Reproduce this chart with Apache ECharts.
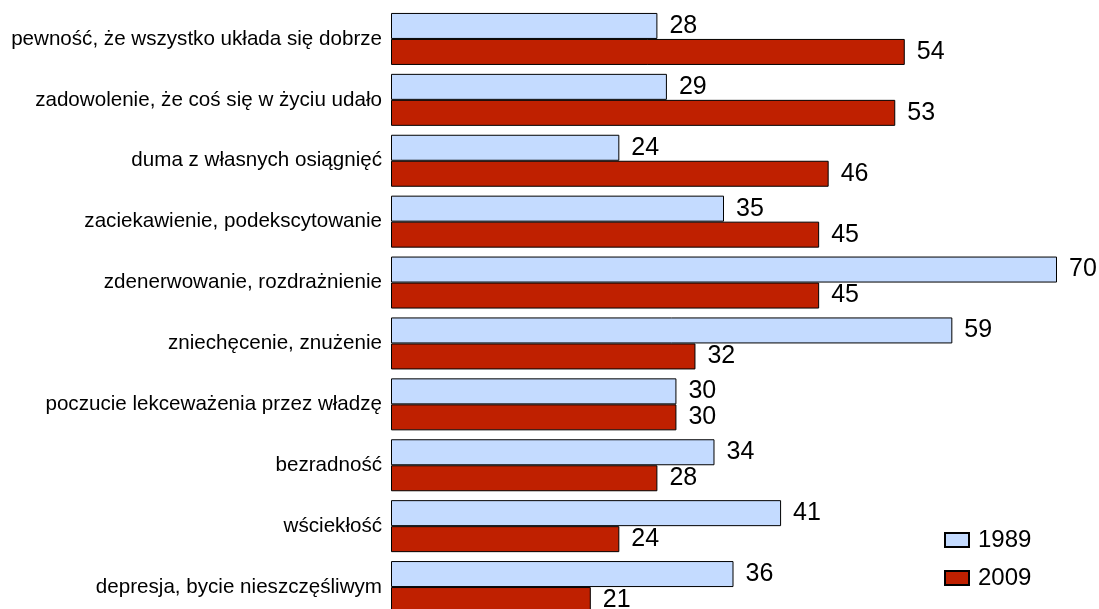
<!DOCTYPE html>
<html>
<head>
<meta charset="utf-8">
<script src="https://cdn.jsdelivr.net/npm/echarts@6/dist/echarts.min.js"></script>
<style>
  html, body { margin: 0; padding: 0; background: #fff; }
  #chart { width: 1099px; height: 609px; }
</style>
</head>
<body>
<div id="chart"></div>
<script>
// kategorie od góry do dołu
var categories = [
  'pewność, że wszystko układa się dobrze',
  'zadowolenie, że coś się w życiu udało',
  'duma z własnych osiągnięć',
  'zaciekawienie, podekscytowanie',
  'zdenerwowanie, rozdrażnienie',
  'zniechęcenie, znużenie',
  'poczucie lekceważenia przez władzę',
  'bezradność',
  'wściekłość',
  'depresja, bycie nieszczęśliwym'
];
var values1989 = [28, 29, 24, 35, 70, 59, 30, 34, 41, 36];
var values2009 = [54, 53, 46, 45, 45, 32, 30, 28, 24, 21];

var chart = echarts.init(document.getElementById('chart'));

var labelStyle = {
  show: true,
  position: 'right',
  distance: 12,
  color: '#000',
  fontSize: 25,
  fontFamily: 'Liberation Sans, Arial, sans-serif'
};

chart.setOption({
  animation: false,
  grid: {
    left: 391,
    top: 8.5,
    width: 666,
    bottom: -8.5,
    outerBoundsMode: 'none'
  },
  xAxis: {
    type: 'value',
    min: 0,
    max: 70,
    show: false
  },
  yAxis: {
    type: 'category',
    inverse: true,
    data: categories,
    axisLine: { show: false },
    axisTick: { show: false },
    axisLabel: {
      color: '#000',
      fontSize: 20.6,
      margin: 9,
      fontFamily: 'Liberation Sans, Arial, sans-serif'
    }
  },
  legend: {
    orient: 'vertical',
    left: 939,
    top: 523,
    itemWidth: 24,
    itemHeight: 14,
    itemGap: 14,
    icon: 'rect',
    textStyle: {
      color: '#000',
      fontSize: 24,
      padding: [0, 0, 0, 4],
      fontFamily: 'Liberation Sans, Arial, sans-serif'
    },
    data: ['1989', '2009']
  },
  series: [
    {
      name: '1989',
      type: 'bar',
      data: values1989,
      barWidth: 26,
      barGap: '0%',
      itemStyle: { color: '#c4dbff', borderColor: '#000', borderWidth: 1 },
      label: labelStyle
    },
    {
      name: '2009',
      type: 'bar',
      data: values2009,
      barWidth: 26,
      itemStyle: { color: '#bf2000', borderColor: '#000', borderWidth: 1 },
      label: labelStyle
    }
  ]
});
</script>
</body>
</html>
